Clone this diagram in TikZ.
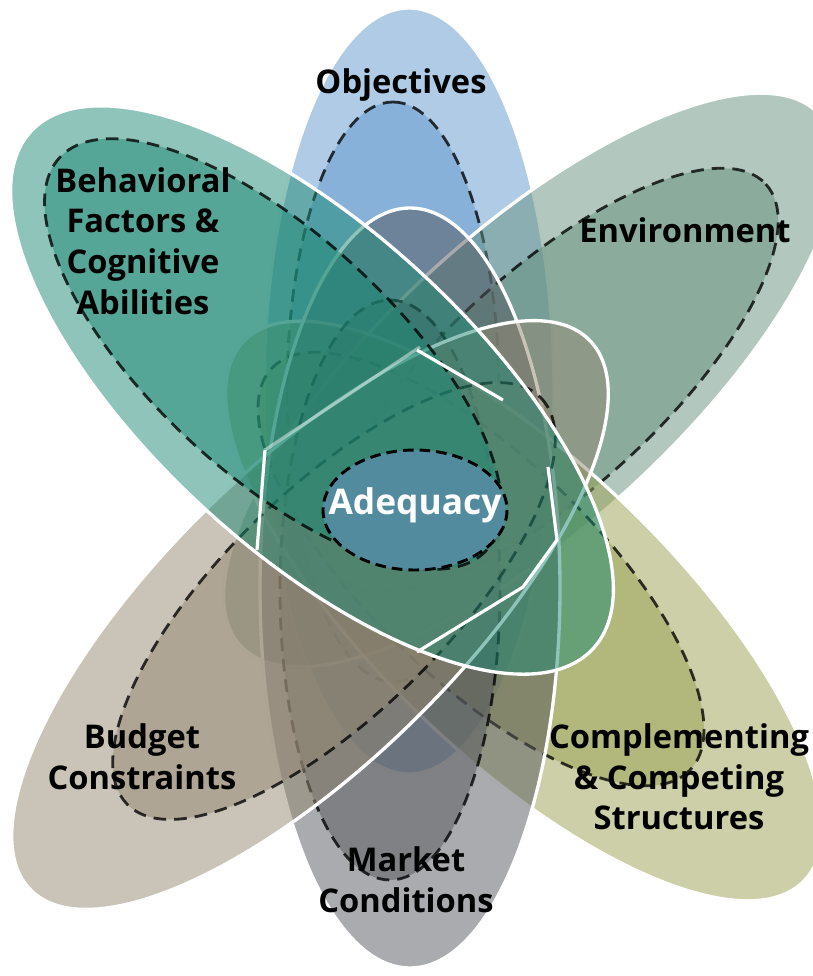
\documentclass[tikz,border=0pt]{standalone}
\usepackage{fontspec}
\newfontfamily\labelfont{Open Sans}
\definecolor{objblue}{RGB}{95,151,203}
\definecolor{envsage}{RGB}{101,145,125}
\definecolor{cmpolive}{RGB}{153,159,81}
\definecolor{mktgray}{RGB}{85,87,93}
\definecolor{budtaupe}{RGB}{147,135,113}
\definecolor{behteal}{RGB}{29,137,115}
\definecolor{adqblue}{RGB}{82,138,158}

\begin{document}
\begin{tikzpicture}[x=0.75pt, y=-0.75pt,
    petal/.style={fill=#1, fill opacity=0.5, draw=white, line width=2.5pt},
    core/.style={fill=#1, fill opacity=0.5, draw=black, draw opacity=0.78,
      line width=2.1pt, dash pattern=on 9.5pt off 6pt},
    lbl/.style={font=\labelfont\bfseries\fontsize{24.5}{30.5}\selectfont,
      align=center, inner sep=0pt}]
  \useasboundingbox (0,0) rectangle (813,976);
  % six petals, each with its dashed core; later ones lie on top
  % centre x/y, axis angle, radii of the petal, then centre and radii of the core
  \foreach \px/\py/\ang/\pa/\pb/\qx/\qy/\qa/\qb/\col in {
      409/391/90/383/145/393/392/290/106/objblue,
      530/380/42.5/393/147/552/380/290/109/envsage,
      524/611/-43.9/389/147/481/569/290/112/cmpolive,
      410/588/90/380/150/390/590/290/110/mktgray,
      310/615/44.5/392/148/334/601/290/112/budtaupe,
      312/390/-42.6/382/160/273/354/290/120/behteal} {
    \path[petal=\col, rotate around={\ang:(\px,\py)}]
      (\px,\py) ellipse [x radius=\pa, y radius=\pb];
    \path[core=\col, rotate around={\ang:(\qx,\qy)}]
      (\qx,\qy) ellipse [x radius=\qa, y radius=\qb];
  }
  % straight edges round the middle
  \draw[white, line width=2.4pt] (417,350) -- (503,400);
  \draw[white, line width=2.4pt, line join=round] (548,467) -- (557,540) -- (523,587) -- (417,652);
  \draw[white, line width=2.4pt] (265,450) -- (257,550);
  \draw[white, draw opacity=0.45, line width=2.4pt] (265,450) -- (420,347);
  % hub
  \draw[fill=adqblue, draw=black, line width=2.2pt, dash pattern=on 8pt off 4.5pt]
    (415,510) ellipse [x radius=92, y radius=60];
  \node[lbl, text=white, font=\labelfont\bfseries\fontsize{26.5}{30}\selectfont] (adq) at (415,505) {Adequacy};
  % petal labels
  \node[lbl] (obj) at (401,85) {Objectives};
  \node[lbl] (env) at (685,230) {Environment};
  \node[lbl] (beh) at (143,241) {Behavioral\\Factors \&\\Cognitive\\Abilities};
  \node[lbl] (cmp) at (679,777) {Complementing\\\& Competing\\Structures};
  \node[lbl] (mkt) at (406,880) {Market\\Conditions};
  \node[lbl] (bud) at (142,757) {Budget\\Constraints};
\end{tikzpicture}
\end{document}
